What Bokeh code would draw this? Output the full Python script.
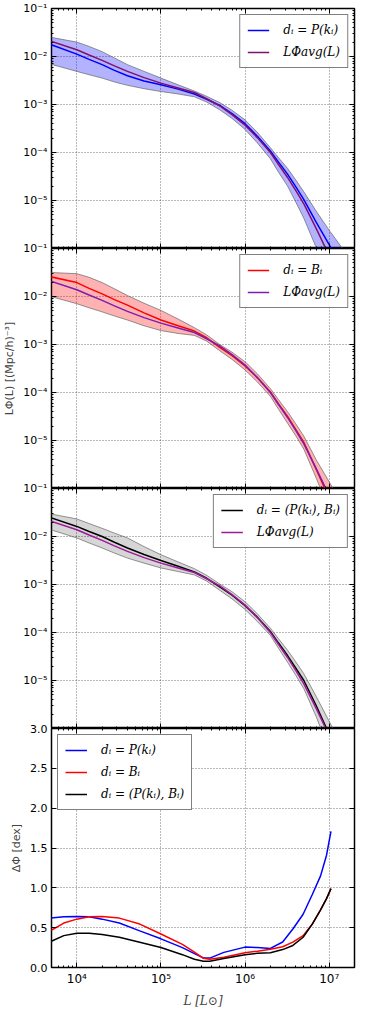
from bokeh.plotting import figure
from bokeh.layouts import column
from bokeh.models import (Range1d, FixedTicker, CustomJSTickFormatter, PrintfTickFormatter,
                          LogAxis, LinearAxis, Legend, LegendItem)
from bokeh.embed import file_html
from bokeh.resources import INLINE

# ---------------- data ----------------
# luminosity grid for the luminosity-function panels [L_sun]
L = [4.9e3, 1e4, 1.4e4, 2e4, 2.8e4, 4e4, 6.3e4, 1e5, 1.6e5, 2.5e5, 3.5e5, 5e5,
     7e5, 1e6, 1.4e6, 2e6, 2.5e6, 3.2e6, 4e6, 5e6, 7e6, 1e7, 1.4e7, 2e7]

# log10 of L*Phi(L) [(Mpc/h)^-3]
LOG_AVG = [-1.68, -1.86, -1.97, -2.08, -2.195, -2.31, -2.44, -2.555, -2.655, -2.75, -2.88, -3.03,
           -3.21, -3.43, -3.69, -4.00, -4.25, -4.52, -4.79, -5.07, -5.58, -6.15, -6.75, -7.35]

LOG_P = [-1.75, -1.95, -2.06, -2.17, -2.29, -2.40, -2.51, -2.59, -2.68, -2.78, -2.89, -3.02,
         -3.19, -3.40, -3.66, -3.97, -4.20, -4.45, -4.71, -4.98, -5.45, -5.92, -6.40, -6.90]
LOG_P_HI = [-1.60, -1.70, -1.79, -1.90, -2.03, -2.17, -2.31, -2.45, -2.59, -2.72, -2.83, -2.96,
            -3.12, -3.32, -3.58, -3.90, -4.11, -4.33, -4.57, -4.82, -5.22, -5.62, -5.97, -6.30]
LOG_P_LO = [-2.16, -2.31, -2.38, -2.45, -2.53, -2.60, -2.67, -2.73, -2.78, -2.84, -2.95, -3.11,
            -3.29, -3.52, -3.80, -4.13, -4.41, -4.70, -5.03, -5.37, -5.98, -6.60, -7.20, -7.80]

LOG_B = [-1.59, -1.71, -1.83, -1.945, -2.065, -2.18, -2.34, -2.49, -2.61, -2.72, -2.86, -3.06,
         -3.23, -3.445, -3.69, -3.99, -4.24, -4.50, -4.77, -5.04, -5.60, -6.20, -6.80, -7.40]
LOG_B_HI = [-1.50, -1.525, -1.60, -1.71, -1.84, -1.98, -2.14, -2.29, -2.47, -2.65, -2.80, -3.00,
            -3.16, -3.36, -3.61, -3.92, -4.15, -4.40, -4.65, -4.91, -5.40, -5.86, -6.30, -6.80]
LOG_B_LO = [-2.00, -2.15, -2.235, -2.32, -2.405, -2.49, -2.61, -2.71, -2.77, -2.81, -2.93, -3.13,
            -3.31, -3.53, -3.78, -4.08, -4.35, -4.64, -4.90, -5.18, -5.78, -6.45, -7.10, -7.70]

LOG_PB = [-1.607, -1.79, -1.895, -2.00, -2.12, -2.24, -2.375, -2.50, -2.62, -2.74, -2.87, -3.05,
          -3.22, -3.44, -3.68, -3.98, -4.22, -4.48, -4.74, -5.00, -5.52, -6.12, -6.70, -7.30]
LOG_PB_HI = [-1.53, -1.635, -1.73, -1.83, -1.93, -2.03, -2.21, -2.38, -2.53, -2.67, -2.81, -2.99,
             -3.15, -3.36, -3.61, -3.91, -4.13, -4.37, -4.61, -4.86, -5.33, -5.85, -6.35, -6.85]
LOG_PB_LO = [-1.86, -2.03, -2.135, -2.24, -2.345, -2.45, -2.555, -2.655, -2.73, -2.80, -2.93, -3.12,
             -3.30, -3.52, -3.77, -4.06, -4.33, -4.62, -4.89, -5.17, -5.75, -6.45, -7.10, -7.70]

# Delta Phi [dex] panel
L_D = [4.9e3, 7e3, 1e4, 1.4e4, 2e4, 3.2e4, 5.6e4, 1e5, 1.8e5, 2.5e5, 3.2e5, 3.8e5,
       5.6e5, 1e6, 1.4e6, 2e6, 2.8e6, 3.7e6, 4.9e6, 6.3e6, 7.9e6, 9.3e6, 1.05e7]
D_P = [0.62, 0.636, 0.64, 0.636, 0.607, 0.558, 0.46, 0.36, 0.25, 0.174, 0.12, 0.118,
       0.19, 0.256, 0.25, 0.24, 0.32, 0.483, 0.669, 0.917, 1.15, 1.41, 1.71]
D_B = [0.463, 0.558, 0.607, 0.636, 0.64, 0.62, 0.545, 0.42, 0.29, 0.194, 0.115, 0.105,
       0.13, 0.186, 0.205, 0.23, 0.26, 0.318, 0.40, 0.545, 0.723, 0.864, 0.99]
D_PB = [0.326, 0.40, 0.43, 0.43, 0.413, 0.38, 0.318, 0.25, 0.161, 0.103, 0.079, 0.079,
        0.112, 0.161, 0.178, 0.186, 0.225, 0.277, 0.38, 0.545, 0.723, 0.864, 0.99]

LBL_P = "dᵢ = P(kᵢ)"
LBL_B = "dᵢ = Bᵢ"
LBL_PB = "dᵢ = (P(kᵢ), Bᵢ)"
LBL_AVG = "LΦavg(L)"
Y_LABEL = "LΦ(L) [(Mpc/h)⁻³]"
D_LABEL = "ΔΦ [dex]"
X_LABEL = "L [L⊙]"

X_TICKS = [1e4, 1e5, 1e6, 1e7]
Y_TICKS = [1e-6, 1e-5, 1e-4, 1e-3, 1e-2, 1e-1]
D_TICKS = [0.0, 0.5, 1.0, 1.5, 2.0, 2.5, 3.0]


def pw(a):
    return [10.0 ** v for v in a]


# ---------------- layout / style ----------------
W = 358
LEFT = 46
RIGHT = 4
FH = 240
TOP = 8
OV = 8
BOT = 42
TICK_FONT = "DejaVu Sans"
LEG_FONT = "DejaVu Serif"

X_MINOR = [k * 10.0 ** e for e in range(3, 8) for k in range(2, 10)]
Y_MINOR = [k * 10.0 ** e for e in range(-7, -1) for k in range(2, 10)]

xr = Range1d(5e3, 2e7)

SUP_JS = r"""
if (tick < lim) { return ""; }
const sup = {"-": "\u207b", "0": "\u2070", "1": "\u00b9", "2": "\u00b2", "3": "\u00b3",
             "4": "\u2074", "5": "\u2075", "6": "\u2076", "7": "\u2077", "8": "\u2078", "9": "\u2079"};
const e = Math.round(Math.log10(tick));
return "10" + String(e).split("").map(c => sup[c]).join("");
"""


def pow_fmt(lim):
    return CustomJSTickFormatter(args=dict(lim=lim), code=SUP_JS)


def blank_fmt():
    return CustomJSTickFormatter(code="return '';")


def tick_style(ax):
    ax.axis_line_color = None
    ax.major_tick_in = 5
    ax.major_tick_out = 0
    ax.minor_tick_in = 2
    ax.minor_tick_out = 0
    ax.major_tick_line_color = "black"
    ax.minor_tick_line_color = "black"
    ax.major_tick_line_width = 1
    ax.minor_tick_line_width = 1


def hidden(ax, ticker):
    tick_style(ax)
    ax.ticker = ticker
    ax.formatter = blank_fmt()
    ax.major_label_text_font_size = "0px"
    ax.major_label_standoff = 0


def shown(ax, ticker, fmt, size="11px"):
    tick_style(ax)
    ax.ticker = ticker
    ax.formatter = fmt
    ax.major_label_text_font = TICK_FONT
    ax.major_label_text_font_size = size
    ax.major_label_text_color = "black"
    ax.major_label_standoff = 4


def make_panel(height, y_range, log_y, top, bottom, first):
    p = figure(width=W, height=height, x_range=xr, y_range=y_range,
               x_axis_type="log", y_axis_type="log" if log_y else "linear",
               output_backend="svg", toolbar_location=None,
               min_border_left=LEFT, min_border_right=RIGHT,
               min_border_top=top, min_border_bottom=bottom,
               border_fill_color=None, background_fill_color="white",
               outline_line_color="black", outline_line_width=1.5)
    if not first:
        p.margin = (-OV, 0, 0, 0)
    below = p.below[0]
    left = p.left[0]
    yt = Y_TICKS if log_y else D_TICKS
    p.xgrid.ticker = FixedTicker(ticks=X_TICKS)
    p.ygrid.ticker = FixedTicker(ticks=yt)
    for g in (p.xgrid, p.ygrid):
        g.grid_line_color = "black"
        g.grid_line_alpha = 0.55
        g.grid_line_dash = "1 2"
        g.grid_line_width = 1
    if log_y:
        shown(left, FixedTicker(ticks=Y_TICKS, minor_ticks=Y_MINOR), pow_fmt(2e-6))
        right = LogAxis()
        hidden(right, FixedTicker(ticks=Y_TICKS, minor_ticks=Y_MINOR))
    else:
        shown(left, FixedTicker(ticks=D_TICKS), PrintfTickFormatter(format="%.1f"))
        right = LinearAxis()
        hidden(right, FixedTicker(ticks=D_TICKS))
    p.add_layout(right, "right")
    above = LogAxis()
    hidden(above, FixedTicker(ticks=X_TICKS, minor_ticks=X_MINOR))
    p.add_layout(above, "above")
    return p, below, left


def add_legend(p, items, loc):
    leg = Legend(items=items, location=loc)
    leg.border_line_color = "black"
    leg.border_line_width = 1
    leg.background_fill_color = "white"
    leg.background_fill_alpha = 1.0
    leg.label_text_font = LEG_FONT
    leg.label_text_font_style = "italic"
    leg.label_text_font_size = "12px"
    leg.label_text_color = "black"
    leg.glyph_width = 22
    leg.glyph_height = 16
    leg.label_height = 16
    leg.label_standoff = 14
    leg.padding = 7
    leg.spacing = 6
    leg.margin = 6
    p.add_layout(leg)


def lf_panel(first, lo, hi, mid, band_color, band_alpha, line_color, avg_color, label):
    h = (TOP if first else OV) + FH
    p, below, left = make_panel(h, Range1d(1e-6, 1e-1), True, TOP if first else OV, 0, first)
    hidden(below, FixedTicker(ticks=X_TICKS, minor_ticks=X_MINOR))
    p.varea(x=L, y1=pw(lo), y2=pw(hi), fill_color=band_color, fill_alpha=band_alpha)
    p.line(x=L, y=pw(hi), line_color="#666666", line_alpha=0.7, line_width=1)
    p.line(x=L, y=pw(lo), line_color="#666666", line_alpha=0.7, line_width=1)
    r1 = p.line(x=L, y=pw(mid), line_color=line_color, line_width=1.5)
    r2 = p.line(x=L, y=pw(LOG_AVG), line_color=avg_color, line_width=1.5)
    add_legend(p, [LegendItem(label=label, renderers=[r1]),
                   LegendItem(label=LBL_AVG, renderers=[r2])], "top_right")
    return p, left


p1, _ = lf_panel(True, LOG_P_LO, LOG_P_HI, LOG_P, "blue", 0.3, "blue", "#82106e", LBL_P)
p2, left2 = lf_panel(False, LOG_B_LO, LOG_B_HI, LOG_B, "red", 0.3, "red", "#7a1fb0", LBL_B)
left2.axis_label = Y_LABEL
left2.axis_label_text_font = TICK_FONT
left2.axis_label_text_font_style = "normal"
left2.axis_label_text_font_size = "11px"
left2.axis_label_standoff = 4
p3, _ = lf_panel(False, LOG_PB_LO, LOG_PB_HI, LOG_PB, "black", 0.16, "black", "#a0189c", LBL_PB)

# Delta Phi panel
p4, below4, left4 = make_panel(OV + FH + BOT, Range1d(0, 3), False, OV, BOT, False)
shown(below4, FixedTicker(ticks=X_TICKS, minor_ticks=X_MINOR), pow_fmt(0), size="12px")
below4.axis_label = X_LABEL
below4.axis_label_text_font = LEG_FONT
below4.axis_label_text_font_style = "italic"
below4.axis_label_text_font_size = "12px"
below4.axis_label_standoff = 5
left4.axis_label = D_LABEL
left4.axis_label_text_font = TICK_FONT
left4.axis_label_text_font_style = "normal"
left4.axis_label_text_font_size = "11px"
left4.axis_label_standoff = 4
q1 = p4.line(x=L_D, y=D_P, line_color="blue", line_width=1.5)
q2 = p4.line(x=L_D, y=D_B, line_color="red", line_width=1.5)
q3 = p4.line(x=L_D, y=D_PB, line_color="black", line_width=1.5)
add_legend(p4, [LegendItem(label=LBL_P, renderers=[q1]),
                LegendItem(label=LBL_B, renderers=[q2]),
                LegendItem(label=LBL_PB, renderers=[q3])], "top_left")

layout = column(p1, p2, p3, p4, spacing=0)

with open("out.html", "w", encoding="utf-8") as f:
    f.write(file_html(layout, INLINE))
